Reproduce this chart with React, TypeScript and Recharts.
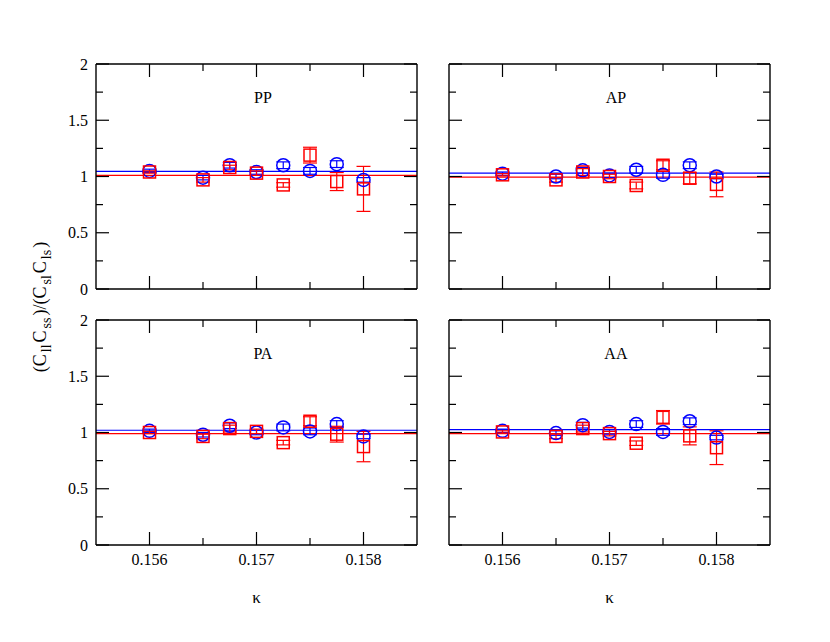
import { ScatterChart, Scatter, XAxis, YAxis, ErrorBar, ReferenceLine, ReferenceDot } from 'recharts';

const kappa = [0.156, 0.1565, 0.15675, 0.157, 0.15725, 0.1575, 0.15775, 0.158];
const xMajor = [0.156, 0.157, 0.158];
const xMinor = [0.1565, 0.1575];
const yMajor = [0, 0.5, 1, 1.5, 2];
const yMinor = [0.25, 0.75, 1.25, 1.75];

// PP
const ppBlue = [1.05, 0.99, 1.1, 1.04, 1.1, 1.05, 1.11, 0.97];
const ppBlueErr = [0.015, 0.02, 0.025, 0.02, 0.03, 0.03, 0.03, 0.02];
const ppRed = [1.04, 0.97, 1.08, 1.03, 0.925, 1.19, 0.955, 0.89];
const ppRedErr = [0.01, 0.02, 0.02, 0.02, 0.02, 0.07, 0.08, 0.2];
const ppFit = [1.045, 1.01];

// AP
const apBlue = [1.025, 1.0, 1.055, 1.01, 1.06, 1.015, 1.1, 1.0];
const apBlueErr = [0.015, 0.02, 0.025, 0.02, 0.03, 0.03, 0.03, 0.02];
const apRed = [1.015, 0.97, 1.04, 1.0, 0.92, 1.1, 0.985, 0.93];
const apRedErr = [0.01, 0.02, 0.03, 0.02, 0.03, 0.04, 0.05, 0.11];
const apFit = [1.03, 0.995];

// PA
const paBlue = [1.015, 0.98, 1.06, 1.0, 1.045, 1.01, 1.075, 0.965];
const paBlueErr = [0.015, 0.02, 0.025, 0.02, 0.03, 0.03, 0.03, 0.02];
const paRed = [1.0, 0.965, 1.035, 1.01, 0.91, 1.1, 0.985, 0.875];
const paRedErr = [0.01, 0.02, 0.03, 0.02, 0.02, 0.04, 0.07, 0.135];
const paFit = [1.02, 0.99];

// AA
const aaBlue = [1.015, 0.995, 1.065, 1.005, 1.075, 1.005, 1.1, 0.955];
const aaBlueErr = [0.015, 0.02, 0.025, 0.02, 0.03, 0.03, 0.03, 0.02];
const aaRed = [1.005, 0.965, 1.035, 0.99, 0.905, 1.135, 0.97, 0.865];
const aaRedErr = [0.01, 0.02, 0.03, 0.02, 0.02, 0.06, 0.08, 0.15];
const aaFit = [1.025, 0.99];

const FONT = '"Liberation Serif", "DejaVu Serif", serif';
const BLUE = '#0000ff';
const RED = '#ff0000';
const FRAME = '#000';
const X_DOMAIN = [0.1555, 0.1585];
const Y_DOMAIN = [0, 2];

const PLOT_W = 321;
const PLOT_H = 225;

const toPoints = (ys: number[], errs: number[]) =>
  kappa.map((k, i) => ({ x: k, y: ys[i], err: errs[i] }));

const BottomTick = (props: any) => {
  const { x, y, payload, showLabel } = props;
  const major = xMajor.includes(payload.value);
  const len = major ? 13 : 7;
  return (
    <g>
      <line x1={x} x2={x} y1={y} y2={y - len} stroke={FRAME} strokeWidth={1.2} />
      {showLabel && major && (
        <text x={x} y={y + 9} dy="0.71em" textAnchor="middle" fontSize={16} fontFamily={FONT} fill="#000">
          {payload.value}
        </text>
      )}
    </g>
  );
};

const TopTick = (props: any) => {
  const { x, y, payload } = props;
  const len = xMajor.includes(payload.value) ? 13 : 7;
  return <line x1={x} x2={x} y1={y} y2={y + len} stroke={FRAME} strokeWidth={1.2} />;
};

const LeftTick = (props: any) => {
  const { x, y, payload, showLabel } = props;
  const major = yMajor.includes(payload.value);
  const len = major ? 13 : 7;
  return (
    <g>
      <line x1={x} x2={x + len} y1={y} y2={y} stroke={FRAME} strokeWidth={1.2} />
      {showLabel && major && (
        <text x={x - 8} y={y} dy="0.35em" textAnchor="end" fontSize={16} fontFamily={FONT} fill="#000">
          {payload.value}
        </text>
      )}
    </g>
  );
};

const RightTick = (props: any) => {
  const { x, y, payload } = props;
  const len = yMajor.includes(payload.value) ? 13 : 7;
  return <line x1={x} x2={x - len} y1={y} y2={y} stroke={FRAME} strokeWidth={1.2} />;
};

const circleShape = (p: any) => (
  <circle cx={p.cx} cy={p.cy} r={6.5} fill="none" stroke={BLUE} strokeWidth={1.5} />
);
const squareShape = (p: any) => (
  <rect x={p.cx - 6} y={p.cy - 6} width={12} height={12} fill="none" stroke={RED} strokeWidth={1.5} />
);

interface PanelProps {
  title: string;
  left: number;
  top: number;
  blue: number[];
  blueErr: number[];
  red: number[];
  redErr: number[];
  fit: number[];
  xLabels: boolean;
  yLabels: boolean;
}

function Panel({ title, left, top, blue, blueErr, red, redErr, fit, xLabels, yLabels }: PanelProps) {
  const axisLine = { stroke: FRAME, strokeWidth: 1.4 };
  return (
    <div style={{ position: 'absolute', left: left - 50, top: top - 10 }}>
      <ScatterChart
        width={50 + PLOT_W + 10}
        height={10 + PLOT_H + 62}
        margin={{ top: 9, right: 9, bottom: 0, left: 0 }}
      >
        <XAxis
          xAxisId="b"
          type="number"
          dataKey="x"
          domain={X_DOMAIN}
          allowDataOverflow
          ticks={[...xMajor, ...xMinor]}
          interval={0}
          height={62}
          tickSize={0}
          tickMargin={0}
          tickLine={false}
          axisLine={axisLine}
          tick={(p: any) => <BottomTick {...p} showLabel={xLabels} />}
          label={xLabels ? { value: 'κ', position: 'insideBottom', offset: 4, fontSize: 17, fontFamily: FONT, fill: '#000' } : undefined}
        />
        <XAxis
          xAxisId="t"
          orientation="top"
          type="number"
          dataKey="x"
          domain={X_DOMAIN}
          allowDataOverflow
          ticks={[...xMajor, ...xMinor]}
          interval={0}
          height={1}
          tickSize={0}
          tickMargin={0}
          tickLine={false}
          axisLine={axisLine}
          tick={(p: any) => <TopTick {...p} />}
        />
        <YAxis
          yAxisId="l"
          type="number"
          dataKey="y"
          domain={Y_DOMAIN}
          allowDataOverflow
          ticks={[...yMajor, ...yMinor]}
          interval={0}
          width={50}
          tickSize={0}
          tickMargin={0}
          tickLine={false}
          axisLine={axisLine}
          tick={(p: any) => <LeftTick {...p} showLabel={yLabels} />}
        />
        <YAxis
          yAxisId="r"
          orientation="right"
          type="number"
          dataKey="y"
          domain={Y_DOMAIN}
          allowDataOverflow
          ticks={[...yMajor, ...yMinor]}
          interval={0}
          width={1}
          tickSize={0}
          tickMargin={0}
          tickLine={false}
          axisLine={axisLine}
          tick={(p: any) => <RightTick {...p} />}
        />
        <ReferenceLine xAxisId="b" yAxisId="l" y={fit[0]} stroke={BLUE} strokeWidth={1.2} />
        <ReferenceLine xAxisId="b" yAxisId="l" y={fit[1]} stroke={RED} strokeWidth={1.2} />
        <Scatter
          xAxisId="b"
          yAxisId="l"
          data={toPoints(blue, blueErr)}
          shape={circleShape}
          isAnimationActive={false}
        >
          <ErrorBar dataKey="err" direction="y" width={7} stroke={BLUE} strokeWidth={1.2} isAnimationActive={false} />
        </Scatter>
        <Scatter
          xAxisId="b"
          yAxisId="l"
          data={toPoints(red, redErr)}
          shape={squareShape}
          isAnimationActive={false}
        >
          <ErrorBar dataKey="err" direction="y" width={7} stroke={RED} strokeWidth={1.2} isAnimationActive={false} />
        </Scatter>
        <ReferenceDot
          xAxisId="b"
          yAxisId="l"
          x={0.15706}
          y={1.7}
          r={1}
          fill="none"
          stroke="none"
          label={{ value: title, position: 'center', fontSize: 16, fontFamily: FONT, fill: '#000' }}
        />
      </ScatterChart>
    </div>
  );
}

const subStyle = { fontSize: 14, margin: '0 2px', verticalAlign: '-0.35em' };

export default function App() {
  return (
    <div style={{ position: 'absolute', left: 0, top: 0, width: 830, height: 642, background: '#fff', fontFamily: FONT }}>
      <Panel title="PP" left={96} top={64} blue={ppBlue} blueErr={ppBlueErr} red={ppRed} redErr={ppRedErr} fit={ppFit} xLabels={false} yLabels />
      <Panel title="AP" left={449} top={64} blue={apBlue} blueErr={apBlueErr} red={apRed} redErr={apRedErr} fit={apFit} xLabels={false} yLabels={false} />
      <Panel title="PA" left={96} top={320} blue={paBlue} blueErr={paBlueErr} red={paRed} redErr={paRedErr} fit={paFit} xLabels yLabels />
      <Panel title="AA" left={449} top={320} blue={aaBlue} blueErr={aaBlueErr} red={aaRed} redErr={aaRedErr} fit={aaFit} xLabels yLabels={false} />
      <div
        style={{
          position: 'absolute',
          left: 42,
          top: 307,
          transform: 'translate(-50%, -50%) rotate(-90deg)',
          whiteSpace: 'nowrap',
          fontSize: 18,
          lineHeight: 1,
        }}
      >
        (C<span style={subStyle}>ll</span>C<span style={subStyle}>ss</span>)/(C<span style={subStyle}>sl</span>C<span style={subStyle}>ls</span>)
      </div>
    </div>
  );
}
